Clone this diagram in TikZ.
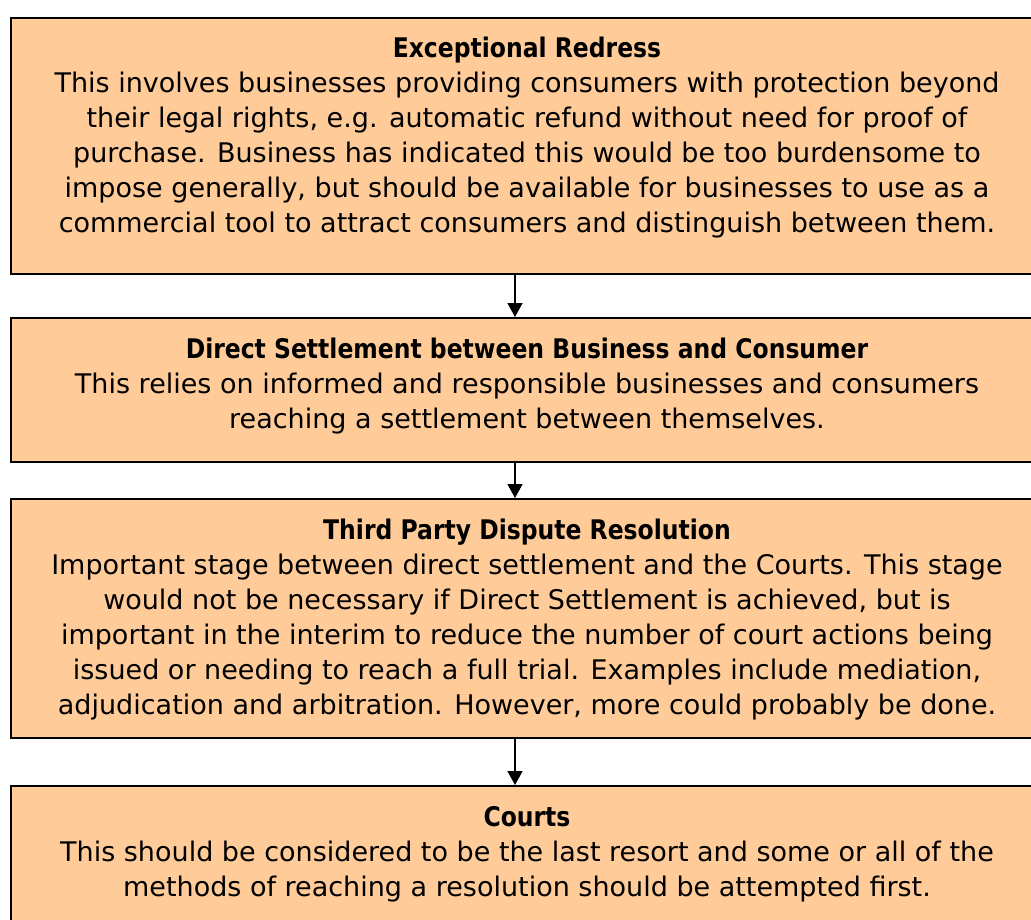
\documentclass[tikz,border=0pt]{standalone}
\usepackage{fontspec}
\setmainfont{DejaVu Sans}
\newfontfamily\headfont{DejaVu Sans}[FakeStretch=0.87]
\usetikzlibrary{arrows.meta}
\definecolor{peach}{HTML}{FFCC99}

\begin{document}
\begin{tikzpicture}[x=1pt,y=-1pt,
  box/.style={draw=black, line width=2pt, fill=peach, minimum width=1032pt, inner sep=0pt},
  txt/.style={anchor=base, align=center, inner sep=0pt, font=\fontsize{27}{35}\selectfont},
  arr/.style={line width=1.5pt, -{Triangle[length=14pt,width=15pt]}}]
\useasboundingbox (0,0) rectangle (1031,920);
\clip (0,0) rectangle (1031,920);
\node[box, minimum height=256pt] (b1) at (527,146) {};
\node[box, minimum height=144pt] (b2) at (527,390) {};
\node[box, minimum height=239pt] (b3) at (527,618.5) {};
\node[box, minimum height=214pt] (b4) at (527,893) {};
\node[txt] (t1) at (527,233) {{\headfont\bfseries Exceptional Redress}\\
  This involves businesses providing consumers with protection beyond\\
  their legal rights, e.g. automatic refund without need for proof of\\
  purchase. Business has indicated this would be too burdensome to\\
  impose generally, but should be available for businesses to use as a\\
  commercial tool to attract consumers and distinguish between them.};
\node[txt] (t2) at (527,428) {{\headfont\bfseries Direct Settlement between Business and Consumer}\\
  This relies on informed and responsible businesses and consumers\\
  reaching a settlement between themselves.};
\node[txt] (t3) at (527,714) {{\headfont\bfseries Third Party Dispute Resolution}\\
  Important stage between direct settlement and the Courts. This stage\\
  would not be necessary if Direct Settlement is achieved, but is\\
  important in the interim to reduce the number of court actions being\\
  issued or needing to reach a full trial. Examples include mediation,\\
  adjudication and arbitration. However, more could probably be done.};
\node[txt] (t4) at (527,896) {{\headfont\bfseries Courts}\\
  This should be considered to be the last resort and some or all of the\\
  methods of reaching a resolution should be attempted first.};
\coordinate (ax) at (515,0);
\draw[arr] (b1.south -| ax) -- (b2.north -| ax);
\draw[arr] (b2.south -| ax) -- (b3.north -| ax);
\draw[arr] (b3.south -| ax) -- (b4.north -| ax);
\end{tikzpicture}
\end{document}
